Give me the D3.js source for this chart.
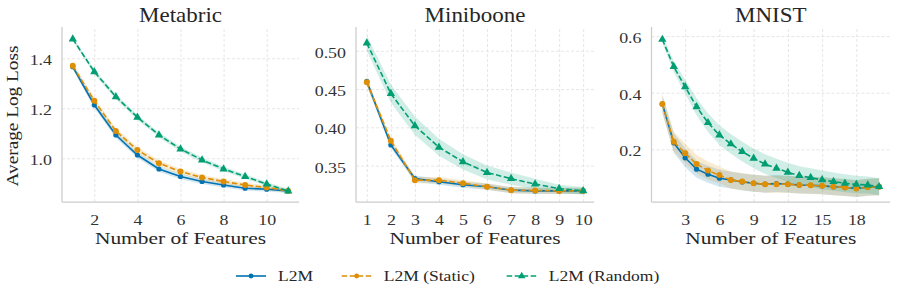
<!DOCTYPE html>
<html><head><meta charset="utf-8">
<script src="https://cdn.jsdelivr.net/npm/d3@7"></script>
<style>body{margin:0;background:#fff}svg{display:block}</style>
</head><body><svg id="c" width="897" height="298"></svg>
<script>
const FONT = '"Liberation Serif", "Times New Roman", serif';
const seriesNames = ["L2M", "L2M (Static)", "L2M (Random)"];
const colors = ["#0173b2", "#de8f05", "#029e73"];

const metabricX = [1,2,3,4,5,6,7,8,9,10,11];
const metabricL2M = [1.366,1.213,1.093,1.013,0.957,0.927,0.907,0.893,0.880,0.876,0.869];
const metabricStatic = [1.370,1.230,1.109,1.033,0.980,0.947,0.923,0.907,0.893,0.883,0.869];
const metabricRandom = [1.477,1.346,1.246,1.164,1.093,1.037,0.993,0.957,0.927,0.897,0.869];
const metabricErrL2M = [0.010,0.012,0.012,0.012,0.011,0.011,0.010,0.010,0.009,0.009,0.008];
const metabricErrStatic = [0.010,0.012,0.012,0.012,0.012,0.011,0.010,0.010,0.009,0.009,0.008];
const metabricErrRandom = [0.008,0.010,0.010,0.010,0.010,0.010,0.010,0.009,0.009,0.008,0.008];
const metabricXTicks = [2,4,6,8,10];
const metabricYTicks = [1.0,1.2,1.4];

const minibooneX = [1,2,3,4,5,6,7,8,9,10];
const minibooneL2M = [0.460,0.377,0.333,0.329,0.325,0.3225,0.318,0.317,0.317,0.317];
const minibooneStatic = [0.459,0.3825,0.331,0.331,0.327,0.3225,0.318,0.3175,0.317,0.317];
const minibooneRandom = [0.510,0.444,0.402,0.374,0.355,0.341,0.333,0.326,0.320,0.317];
const minibooneErrL2M = [0.005,0.004,0.004,0.004,0.004,0.004,0.004,0.004,0.004,0.004];
const minibooneErrStatic = [0.005,0.004,0.004,0.004,0.004,0.004,0.004,0.004,0.004,0.004];
const minibooneErrRandom = [0.010,0.012,0.012,0.011,0.010,0.009,0.008,0.007,0.005,0.005];
const minibooneXTicks = [1,2,3,4,5,6,7,8,9,10];
const minibooneYTicks = [0.35,0.40,0.45,0.50];

const mnistX = [1,2,3,4,5,6,7,8,9,10,11,12,13,14,15,16,17,18,19,20];
const mnistL2M = [0.360,0.223,0.170,0.130,0.112,0.098,0.092,0.085,0.080,0.077,0.079,0.077,0.074,0.073,0.071,0.068,0.065,0.062,0.066,0.068];
const mnistStatic = [0.360,0.227,0.186,0.148,0.125,0.109,0.092,0.086,0.080,0.077,0.077,0.077,0.074,0.073,0.071,0.068,0.065,0.062,0.066,0.068];
const mnistRandom = [0.588,0.492,0.421,0.350,0.294,0.250,0.219,0.192,0.168,0.148,0.133,0.119,0.107,0.100,0.092,0.086,0.080,0.076,0.074,0.068];
const mnistErrL2M = [0.030,0.035,0.033,0.030,0.030,0.030,0.030,0.030,0.030,0.030,0.030,0.030,0.030,0.030,0.030,0.030,0.030,0.030,0.030,0.030];
const mnistErrStatic = [0.035,0.035,0.035,0.033,0.032,0.030,0.030,0.030,0.030,0.030,0.030,0.030,0.030,0.030,0.030,0.030,0.030,0.030,0.030,0.030];
const mnistErrRandom = [0.012,0.020,0.025,0.030,0.033,0.035,0.035,0.035,0.035,0.035,0.034,0.034,0.033,0.033,0.033,0.032,0.032,0.031,0.030,0.030];
const mnistXTicks = [3,6,9,12,15,18];
const mnistYTicks = [0.2,0.4,0.6];

const panels = [
  {title:"Metabric", x:metabricX, series:[metabricL2M,metabricStatic,metabricRandom], err:[metabricErrL2M,metabricErrStatic,metabricErrRandom],
   xt:metabricXTicks, yt:metabricYTicks, yfmt:".1f", left:62, right:299, ydom:[0.825,1.525]},
  {title:"Miniboone", x:minibooneX, series:[minibooneL2M,minibooneStatic,minibooneRandom], err:[minibooneErrL2M,minibooneErrStatic,minibooneErrRandom],
   xt:minibooneXTicks, yt:minibooneYTicks, yfmt:".2f", left:356, right:594, ydom:[0.3025,0.531]},
  {title:"MNIST", x:mnistX, series:[mnistL2M,mnistStatic,mnistRandom], err:[mnistErrL2M,mnistErrStatic,mnistErrRandom],
   xt:mnistXTicks, yt:mnistYTicks, yfmt:".1f", left:651.5, right:890, ydom:[0.014,0.632]}
];

const svg = d3.select("#c");
const plotTop = 27, plotBottom = 202;
const TICK_SX = 1.28, TICK_FS = 14;

// text helper: horizontally widened serif text
function addText(parent, x, y, str, size, sx, anchor, rotate) {
  return parent.append("text")
    .attr("transform", `translate(${x},${y})` + (rotate ? ` rotate(${rotate})` : "") + ` scale(${sx},1)`)
    .attr("text-anchor", anchor || "start")
    .attr("font-family", FONT).attr("font-size", size).attr("fill", "#262626").text(str);
}

panels.forEach((p, pi) => {
  const xmin = d3.min(p.x), xmax = d3.max(p.x), pad = (xmax - xmin) * 0.05;
  const x = d3.scaleLinear().domain([xmin - pad, xmax + pad]).range([p.left, p.right]);
  const y = d3.scaleLinear().domain(p.ydom).range([plotBottom, plotTop]);
  const g = svg.append("g");

  // grid
  g.append("g").attr("transform", `translate(0,${plotBottom})`)
    .call(d3.axisBottom(x).tickValues(p.xt).tickSize(-(plotBottom - plotTop)).tickFormat(""))
    .call(s => s.select(".domain").remove())
    .call(s => s.selectAll("line").attr("stroke", "#e0e0e0").attr("stroke-width", 0.8).attr("stroke-dasharray", "3,2"));
  g.append("g").attr("transform", `translate(${p.left},0)`)
    .call(d3.axisLeft(y).tickValues(p.yt).tickSize(-(p.right - p.left)).tickFormat(""))
    .call(s => s.select(".domain").remove())
    .call(s => s.selectAll("line").attr("stroke", "#e0e0e0").attr("stroke-width", 0.8).attr("stroke-dasharray", "3,2"));

  // tick labels (d3 axes, text widened)
  const xa = g.append("g").attr("transform", `translate(0,${plotBottom})`)
    .call(d3.axisBottom(x).tickValues(p.xt).tickSize(0).tickPadding(13.2).tickFormat(d3.format("d")));
  xa.select(".domain").remove();
  xa.attr("font-family", FONT).attr("font-size", TICK_FS);
  xa.selectAll("text").attr("fill", "#333").attr("transform", `scale(${TICK_SX},1)`);
  const ya = g.append("g").attr("transform", `translate(${p.left},0)`)
    .call(d3.axisLeft(y).tickValues(p.yt).tickSize(0).tickFormat(d3.format(p.yfmt)));
  ya.select(".domain").remove();
  ya.attr("font-family", FONT).attr("font-size", TICK_FS);
  ya.selectAll("text").attr("fill", "#333").attr("x", -10 / TICK_SX).attr("dy", "0.47em")
    .attr("transform", `scale(${TICK_SX},1)`);

  // spines
  g.append("line").attr("x1", p.left).attr("x2", p.left).attr("y1", plotTop).attr("y2", plotBottom).attr("stroke", "#cccccc").attr("stroke-width", 1.25);
  g.append("line").attr("x1", p.left).attr("x2", p.right).attr("y1", plotBottom).attr("y2", plotBottom).attr("stroke", "#cccccc").attr("stroke-width", 1.25);

  // bands
  p.series.forEach((s, si) => {
    const pts = p.x.map((xv, i) => ({x: xv, y: s[i], e: p.err[si][i]}));
    g.append("path").datum(pts)
      .attr("d", d3.area().x(d => x(d.x)).y0(d => y(d.y - d.e)).y1(d => y(d.y + d.e)))
      .attr("fill", colors[si]).attr("fill-opacity", 0.18);
  });
  // lines + markers
  p.series.forEach((s, si) => {
    const pts = p.x.map((xv, i) => ({x: xv, y: s[i]}));
    g.append("path").datum(pts)
      .attr("d", d3.line().x(d => x(d.x)).y(d => y(d.y)))
      .attr("fill", "none").attr("stroke", colors[si]).attr("stroke-width", 1.6)
      .attr("stroke-dasharray", si === 0 ? null : "5.5,2.5");
    if (si === 2) {
      g.selectAll(null).data(pts).enter().append("path")
        .attr("d", d3.symbol(d3.symbolTriangle, 30))
        .attr("transform", d => `translate(${x(d.x)},${y(d.y)})`)
        .attr("fill", colors[si]);
    } else {
      g.selectAll(null).data(pts).enter().append("circle")
        .attr("cx", d => x(d.x)).attr("cy", d => y(d.y)).attr("r", si === 0 ? 2.6 : 3)
        .attr("fill", colors[si]);
    }
  });

  // title and labels
  addText(g, (p.left + p.right) / 2, 21.7, p.title, 20, 1.15, "middle");
  addText(g, (p.left + p.right) / 2, 244.2, "Number of Features", 16.6, 1.29, "middle");
  if (pi === 0) {
    addText(g, 18.2, (plotTop + plotBottom) / 2 + 1.5, "Average Log Loss", 16.6, 1.16, "middle", -90);
  }
});

// legend
const legX = [236, 341.7, 506.7];
const legY = 276;
seriesNames.forEach((n, i) => {
  const lg = svg.append("g");
  lg.append("line").attr("x1", legX[i]).attr("x2", legX[i] + 30).attr("y1", legY).attr("y2", legY)
    .attr("stroke", colors[i]).attr("stroke-width", 1.6).attr("stroke-dasharray", i === 0 ? null : "5.5,2.5");
  if (i === 2) {
    lg.append("path").attr("d", d3.symbol(d3.symbolTriangle, 24)).attr("transform", `translate(${legX[i] + 15},${legY})`).attr("fill", colors[i]);
  } else {
    lg.append("circle").attr("cx", legX[i] + 15).attr("cy", legY).attr("r", 2.4).attr("fill", colors[i]);
  }
  addText(lg, legX[i] + 42, 280.5, n, 15, 1.17, "start");
});
</script></body></html>
